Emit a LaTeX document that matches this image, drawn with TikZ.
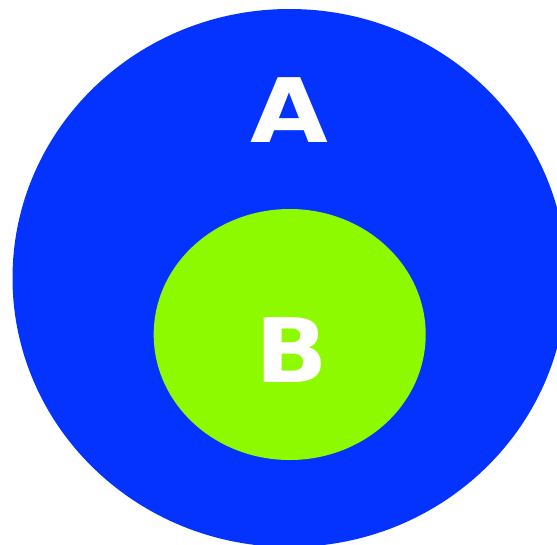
\documentclass[tikz,border=0pt]{standalone}
\usepackage{fontspec}
\setmainfont{DejaVu Sans}
\usepackage{xcolor}
\usepackage{tikz}
\usetikzlibrary{shapes.geometric}
\definecolor{setblue}{HTML}{0433FF}
\definecolor{setgreen}{HTML}{8EFA00}

\begin{document}
\begin{tikzpicture}[x=1pt,y=-1pt,
  lbl/.style={text=white,inner sep=0pt,anchor=base,font=\fontsize{89}{89}\selectfont\bfseries}]
 \useasboundingbox (0,0) rectangle (557,544);
 \clip (0,0) rectangle (557,544);
 \fill[setblue] (289.5,278) ellipse [x radius=277, y radius=269];
 \fill[setgreen] (289.7,334.5) ellipse [x radius=136, y radius=125.5];
 \node[lbl] (A) at (289,142) {\scalebox{1.13}[1]{A}};
 \node[lbl] (B) at (292,382.5) {\scalebox{1.07}[1]{B}};
\end{tikzpicture}
\end{document}
